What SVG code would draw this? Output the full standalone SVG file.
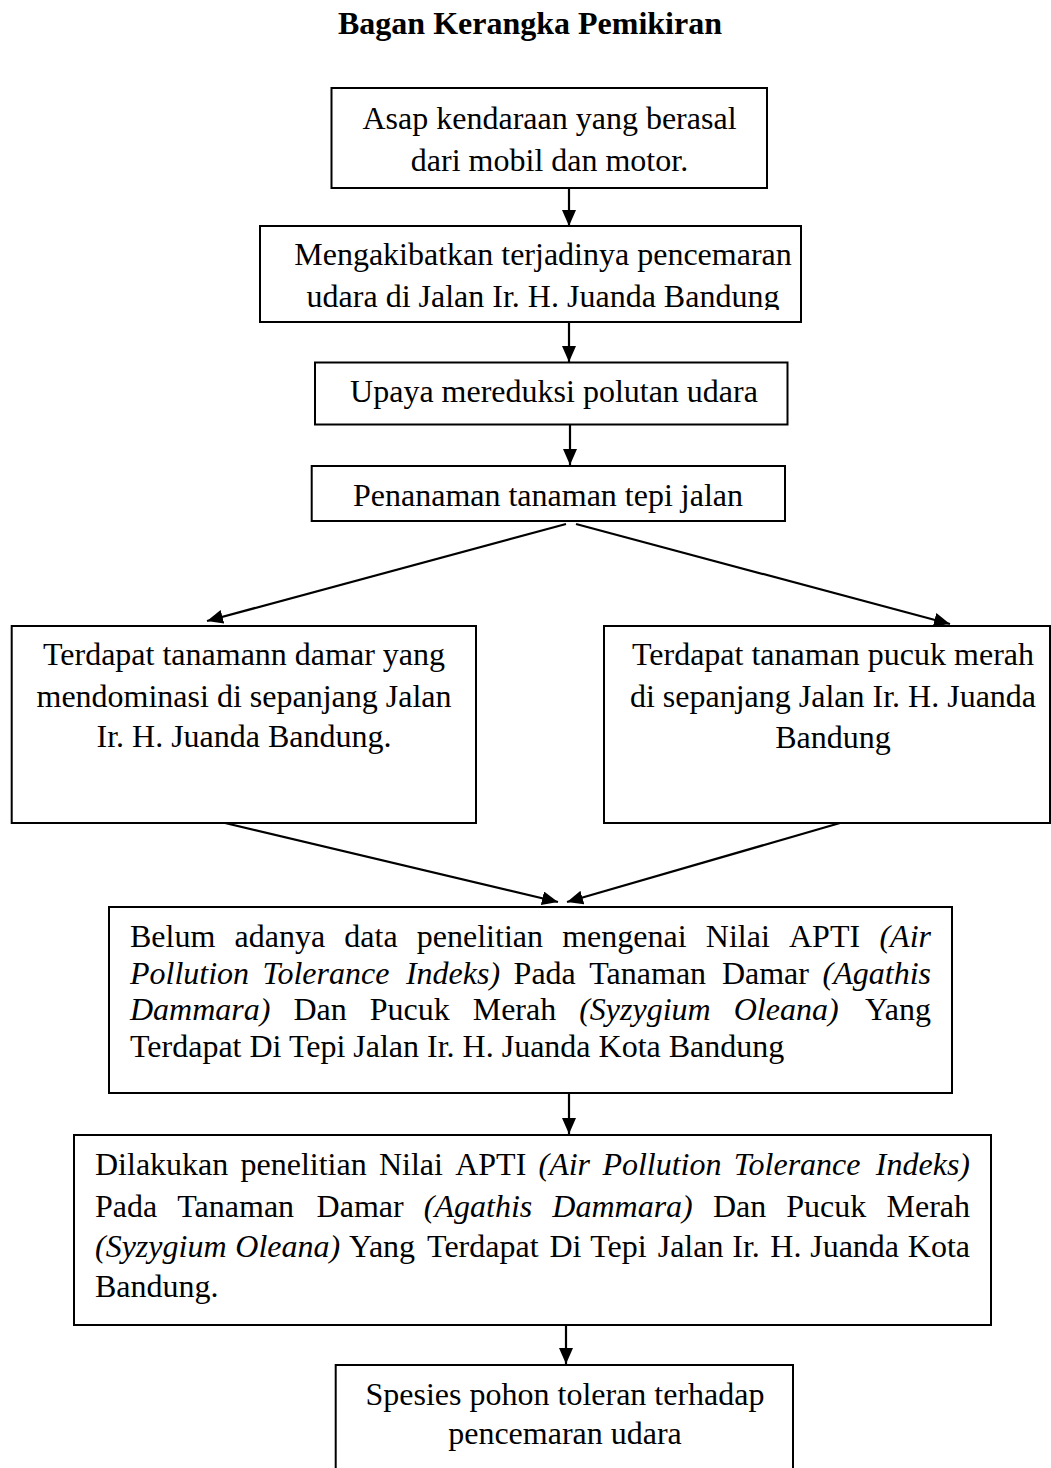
<svg xmlns="http://www.w3.org/2000/svg" width="1051" height="1468" viewBox="0 0 1051 1468">
<style>
text { font-family: "Liberation Serif", "Times New Roman", serif; font-size: 32px; fill: #000; }
.c { text-anchor: middle; }
.e { text-anchor: end; }
.i { font-style: italic; }
.title { font-weight: bold; }
.box { fill: #fff; stroke: #000; stroke-width: 2; }
.conn { stroke: #000; stroke-width: 2.2; fill: none; marker-end: url(#arr); }
</style>
<defs>
<marker id="arr" markerUnits="userSpaceOnUse" markerWidth="16" markerHeight="14" refX="16" refY="7" orient="auto">
<path d="M0,0 L16,7 L0,14 z" fill="#000"/>
</marker>
<clipPath id="clip2"><rect x="250" y="270" width="560" height="40"/></clipPath>
</defs>
<rect width="1051" height="1468" fill="#fff"/>
<text class="title c" x="530" y="34">Bagan Kerangka Pemikiran</text>

<g id="n1">
<rect class="box" x="331.5" y="88" width="435.5" height="100"/>
<text class="c" x="549.5" y="129">Asap kendaraan yang berasal</text>
<text class="c" x="549.5" y="171">dari mobil dan motor.</text>
</g>
<g id="n2">
<rect class="box" x="260" y="226" width="541" height="96"/>
<text class="c" x="543" y="265">Mengakibatkan terjadinya pencemaran</text>
<text class="c" x="543" y="307" clip-path="url(#clip2)">udara di Jalan Ir. H. Juanda Bandung</text>
</g>
<g id="n3">
<rect class="box" x="315" y="362.5" width="472.5" height="62"/>
<text class="c" x="554" y="402">Upaya mereduksi polutan udara</text>
</g>
<g id="n4">
<rect class="box" x="311.7" y="466" width="473.3" height="55"/>
<text class="c" x="548" y="506">Penanaman tanaman tepi jalan</text>
</g>
<g id="n5">
<rect class="box" x="11.7" y="626" width="464.3" height="197"/>
<text class="c" x="244" y="665">Terdapat tanamann damar yang</text>
<text class="c" x="244" y="706.5">mendominasi di sepanjang Jalan</text>
<text class="c" x="244" y="747">Ir. H. Juanda Bandung.</text>
</g>
<g id="n6">
<rect class="box" x="604" y="626" width="446" height="197"/>
<text class="c" x="833" y="665">Terdapat tanaman pucuk merah</text>
<text class="c" x="833" y="706.5">di sepanjang Jalan Ir. H. Juanda</text>
<text class="c" x="833" y="748">Bandung</text>
</g>
<g id="n7">
<rect class="box" x="109" y="907" width="843" height="186"/>
<text y="947"><tspan x="130">Belum</tspan><tspan x="234.5">adanya</tspan><tspan x="344.3">data</tspan><tspan x="416.8">penelitian</tspan><tspan x="562.2">mengenai</tspan><tspan x="705.8">Nilai</tspan><tspan x="789">APTI</tspan></text>
<text class="i e" x="931" y="947">(Air</text>
<text y="984"><tspan class="i" x="130">Pollution</tspan><tspan class="i" x="262.6">Tolerance</tspan><tspan class="i" x="405.9">Indeks)</tspan><tspan x="513.6">Pada</tspan><tspan x="589.3">Tanaman</tspan><tspan x="721.9">Damar</tspan></text>
<text class="i e" x="931" y="984">(Agathis</text>
<text y="1020"><tspan class="i" x="130">Dammara)</tspan><tspan x="293.4">Dan</tspan><tspan x="369.7">Pucuk</tspan><tspan x="472.7">Merah</tspan><tspan class="i" x="579.2">(Syzygium</tspan><tspan class="i" x="733.7">Oleana)</tspan></text>
<text class="e" x="931" y="1020">Yang</text>
<text x="130" y="1057">Terdapat Di Tepi Jalan Ir. H. Juanda Kota Bandung</text>
</g>
<g id="n8">
<rect class="box" x="74" y="1135" width="917" height="190"/>
<text y="1175"><tspan x="95">Dilakukan</tspan><tspan x="240.5">penelitian</tspan><tspan x="378.9">Nilai</tspan><tspan x="455.2">APTI</tspan><tspan class="i" x="538.5">(Air</tspan><tspan class="i" x="602.4">Pollution</tspan><tspan class="i" x="733.7">Tolerance</tspan></text>
<text class="i e" x="970" y="1175">Indeks)</text>
<text y="1217"><tspan x="95">Pada</tspan><tspan x="177.3">Tanaman</tspan><tspan x="316.6">Damar</tspan><tspan class="i" x="423.8">(Agathis</tspan><tspan class="i" x="552.3">Dammara)</tspan><tspan x="712.9">Dan</tspan><tspan x="786.3">Pucuk</tspan></text>
<text class="e" x="970" y="1217">Merah</text>
<text y="1257"><tspan class="i" x="95">(Syzygium</tspan><tspan class="i" x="235.3">Oleana)</tspan><tspan x="349">Yang</tspan><tspan x="427.1">Terdapat</tspan><tspan x="549.5">Di</tspan><tspan x="590.3">Tepi</tspan><tspan x="657.7">Jalan</tspan><tspan x="732.3">Ir.</tspan><tspan x="770.3">H.</tspan><tspan x="810.2">Juanda</tspan></text>
<text class="e" x="970" y="1257">Kota</text>
<text x="95" y="1297">Bandung.</text>
</g>
<g id="n9">
<rect class="box" x="335.7" y="1365" width="457.3" height="130"/>
<text class="c" x="565" y="1405">Spesies pohon toleran terhadap</text>
<text class="c" x="565" y="1444">pencemaran udara</text>
</g>

<g id="connectors">
<line class="conn" x1="569" y1="188" x2="569" y2="226"/>
<line class="conn" x1="569" y1="322" x2="569" y2="362"/>
<line class="conn" x1="570" y1="425" x2="570" y2="465"/>
<line class="conn" x1="566" y1="524" x2="207" y2="621"/>
<line class="conn" x1="576" y1="524" x2="950" y2="624"/>
<line class="conn" x1="225" y1="823" x2="558" y2="902"/>
<line class="conn" x1="840" y1="823" x2="567" y2="902"/>
<line class="conn" x1="569" y1="1093" x2="569" y2="1134"/>
<line class="conn" x1="566" y1="1325" x2="566" y2="1364"/>
</g>
</svg>
